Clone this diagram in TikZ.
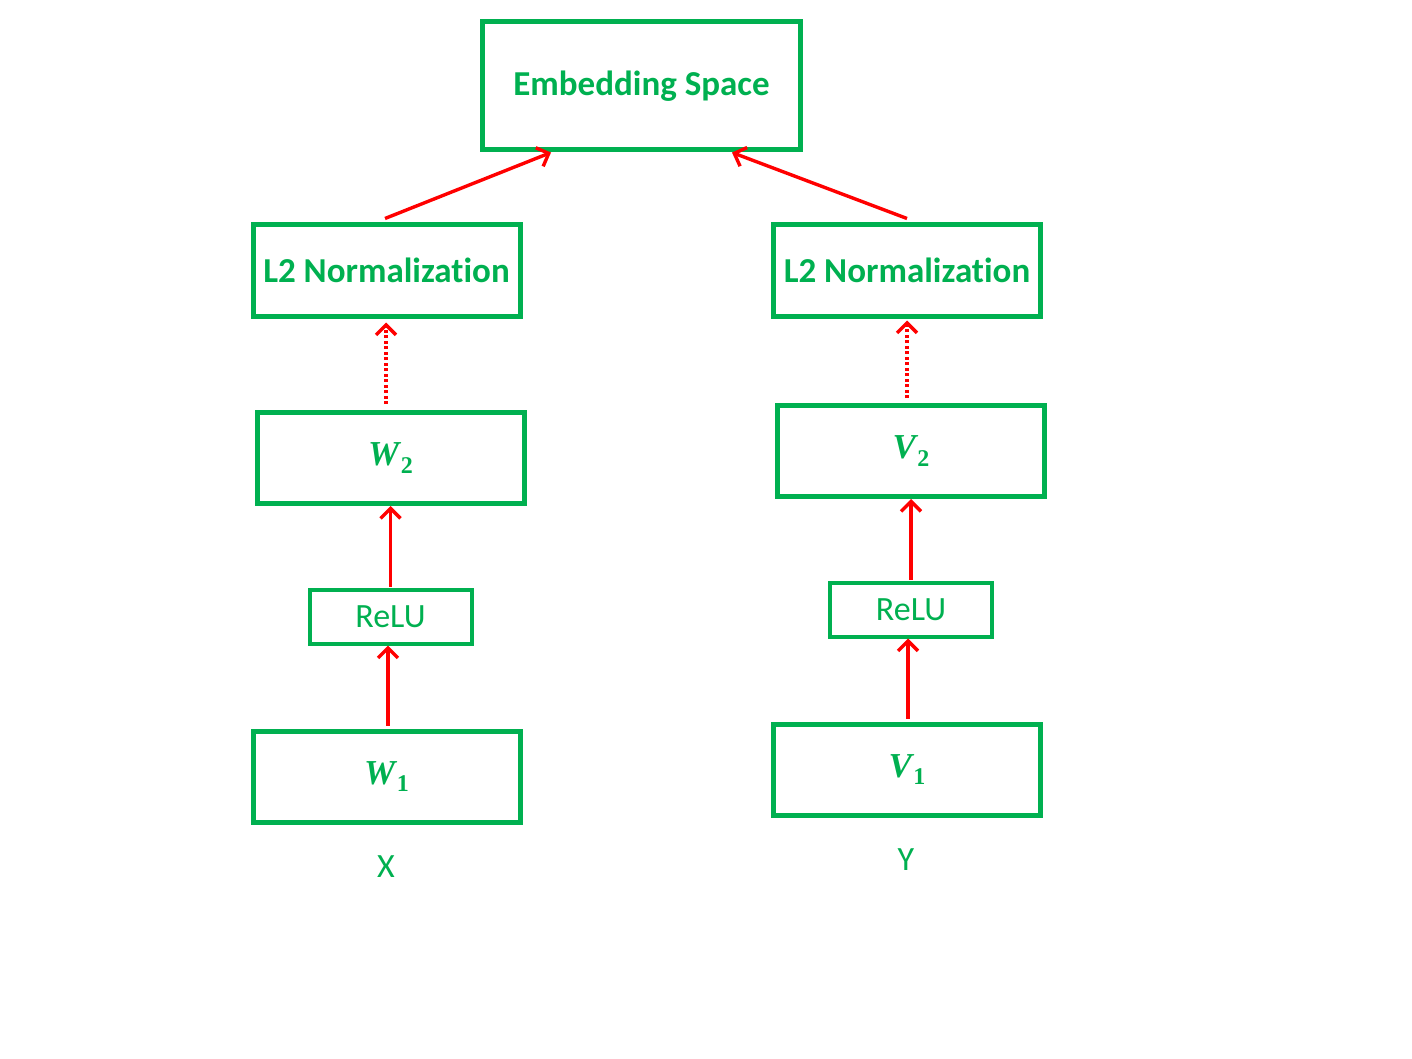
\documentclass[tikz,border=0pt]{standalone}
\usepackage{fontspec}
\setmainfont{Carlito}[Ligatures={NoCommon}]
\newfontfamily\wserif{Liberation Serif}
\usetikzlibrary{arrows.meta,calc}
\definecolor{boxgreen}{HTML}{00B050}
\definecolor{arrred}{HTML}{FF0000}
\newcommand{\wsym}[2]{{\wserif\bfseries\itshape #1}\kern1.5pt\raisebox{-0.22em}{\wserif\bfseries\fontsize{24}{28}\selectfont #2}}
\begin{document}
\begin{tikzpicture}[x=1pt,y=-1pt,
  box/.style={draw=boxgreen,line width=5pt,text=boxgreen,inner sep=0pt,
    minimum width=267pt,minimum height=91pt,
    font=\fontsize{35}{42}\selectfont\bfseries},
  mathbox/.style={box,font=\fontsize{35}{42}\selectfont},
  relubox/.style={draw=boxgreen,line width=4pt,text=boxgreen,inner sep=0pt,
    minimum width=162pt,minimum height=54pt,font=\fontsize{34}{40}\selectfont},
  lbl/.style={text=boxgreen,font=\fontsize{34}{40}\selectfont},
  arr/.style={draw=arrred,line width=3.4pt,-{Straight Barb[length=10pt,width=20pt]}},
  dotarr/.style={arr,dash pattern=on 3pt off 2.5pt}]
\useasboundingbox (0,0) rectangle (1412,1059);
\node[box,minimum width=318pt,minimum height=128pt] (emb) at (641.5,86) {\raisebox{-3pt}{Embedding Space}};
\node[box] (l2a) at (386.5,270.5) {L2 Normalization};
\node[box] (l2b) at (907,270.5) {L2 Normalization};
\node[mathbox] (w2) at (390.5,458) {\wsym{W}{2}};
\node[mathbox] (v2) at (911,451) {\wsym{V}{2}};
\node[relubox] (relua) at (390.5,616.5) {ReLU};
\node[relubox] (relub) at (911,609.5) {ReLU};
\node[mathbox] (w1) at (386.5,776.5) {\wsym{W}{1}};
\node[mathbox] (v1) at (907,769.5) {\wsym{V}{1}};
\node[lbl] (x) at (386,867) {X};
\node[lbl] (y) at (906,860) {Y};
% connectors
\draw[arr] ($(l2a.north)+(-1.5,-4)$) -- ($(emb.south)+(-90.5,0)$);
\draw[arr] ($(l2b.north)+(0,-4)$) -- ($(emb.south)+(90.5,0)$);
\draw[dotarr] ($(w2.north)+(-4.5,-6)$) -- ($(l2a.south)+(-0.5,4)$);
\draw[dotarr] ($(v2.north)+(-4,-5)$) -- ($(l2b.south)+(0,2)$);
\draw[arr] ($(relua.north)+(0,-1)$) -- (w2.south);
\draw[arr] ($(relub.north)+(0,-1)$) -- (v2.south);
\draw[arr] ($(w1.north)+(1.5,-3)$) -- ($(relua.south)+(-2.5,0)$);
\draw[arr] ($(v1.north)+(1,-3)$) -- ($(relub.south)+(-3,0)$);
\end{tikzpicture}
\end{document}
